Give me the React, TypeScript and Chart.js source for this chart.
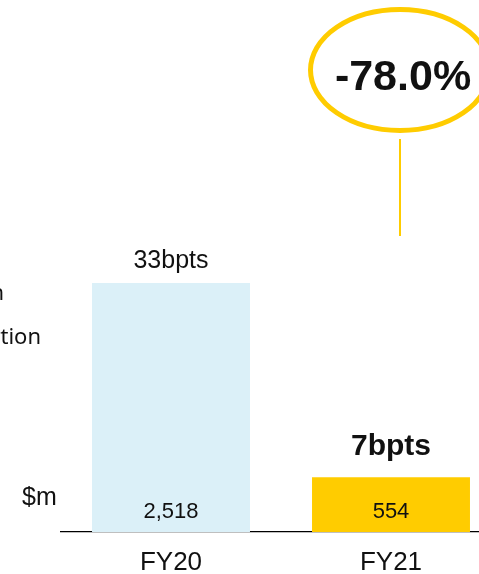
import React, { useEffect, useRef } from "react";
import { Chart, registerables } from "chart.js";

Chart.register(...registerables);

const categories = ["FY20", "FY21"];
const values = [2518, 554];
const valueLabels = ["2,518", "554"];
const bptsLabels = ["33bpts", "7bpts"];
const barColors = ["#DBF0F8", "#FFCC00"];
const changeLabel = "-78.0%";
const unitLabel = "$m";
const sideLines = ["Credit impairment charge in", "Loss rate as a proportion"];

const SANS = "'Liberation Sans', Arial, Helvetica, sans-serif";

const annotationPlugin = {
  id: "annotations",
  afterDatasetsDraw(chart: any) {
    const ctx = chart.ctx as CanvasRenderingContext2D;
    const meta = chart.getDatasetMeta(0);
    ctx.save();
    ctx.fillStyle = "#111";
    ctx.textAlign = "center";
    ctx.textBaseline = "alphabetic";
    meta.data.forEach((bar: any, i: number) => {
      const { x, y, base } = bar.getProps(["x", "y", "base"], true);
      ctx.font = `22px ${SANS}`;
      ctx.fillText(valueLabels[i], x, base - 14);
      const bold = i === values.length - 1;
      ctx.font = bold ? `bold 30px ${SANS}` : `25px ${SANS}`;
      ctx.fillText(bptsLabels[i], x, y - (bold ? 22 : 15));
    });

    // change bubble above last bar
    const last = meta.data[meta.data.length - 1];
    const cx = last.x + 9;
    const cy = 70;
    ctx.strokeStyle = "#FFCC00";
    ctx.lineWidth = 5;
    ctx.beginPath();
    ctx.ellipse(cx, cy, 89.5, 60.5, 0, 0, Math.PI * 2);
    ctx.stroke();
    ctx.font = `bold 43px ${SANS}`;
    ctx.fillStyle = "#111";
    ctx.fillText(changeLabel, cx + 3, 90);
    ctx.lineWidth = 2;
    ctx.beginPath();
    ctx.moveTo(cx, 139);
    ctx.lineTo(cx, 236);
    ctx.stroke();

    // unit label
    ctx.textAlign = "left";
    ctx.font = `25px ${SANS}`;
    ctx.fillText(unitLabel, 22, 505);

    // side text (cut off at left edge)
    ctx.textAlign = "right";
    ctx.font = "22px 'Noto Sans', 'Open Sans', sans-serif";
    ctx.fillStyle = "#111";
    ctx.fillText(sideLines[0], 4, 300);
    ctx.fillText(sideLines[1], 41, 344);
    ctx.restore();
  },
};

export default function App() {
  const ref = useRef<HTMLCanvasElement | null>(null);

  useEffect(() => {
    if (!ref.current) return;
    const chart = new Chart(ref.current, {
      type: "bar",
      data: {
        labels: categories,
        datasets: [
          {
            data: values,
            backgroundColor: barColors,
            barPercentage: 0.718,
            categoryPercentage: 1,
          },
        ],
      },
      options: {
        responsive: false,
        animation: false,
        layout: { padding: { left: 61, right: 0, top: 32, bottom: 0 } },
        plugins: {
          legend: { display: false },
          tooltip: { enabled: false },
        },
        scales: {
          x: {
            grid: { display: false, drawTicks: false },
            border: { display: true, color: "#000", width: 1.2 },
            ticks: {
              font: { size: 26, family: SANS },
              color: "#111",
              padding: 15.4,
            },
          },
          y: { display: false, min: 0, max: 5056 },
        },
      },
      plugins: [annotationPlugin],
    });
    return () => chart.destroy();
  }, []);

  return (
    <div
      style={{
        position: "absolute",
        left: 0,
        top: 0,
        width: 479,
        height: 574,
        overflow: "hidden",
        background: "#fff",
      }}
    >
      <canvas ref={ref} width={501} height={594} style={{ display: "block" }} />
    </div>
  );
}
